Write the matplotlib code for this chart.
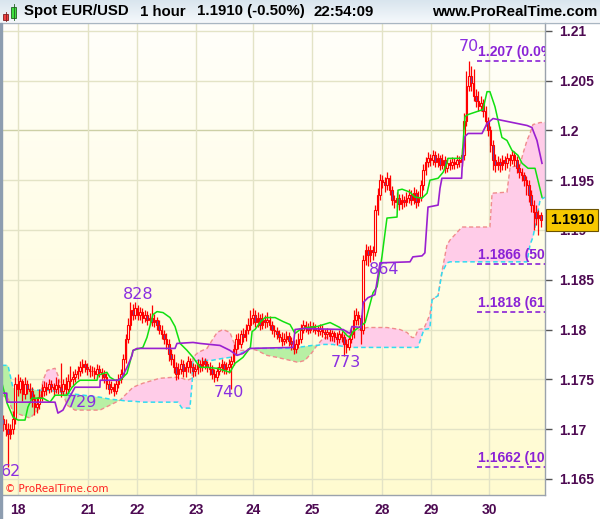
import numpy as np
import matplotlib
matplotlib.use("Agg")
import matplotlib.pyplot as plt
from matplotlib.patches import Rectangle
from matplotlib.lines import Line2D
from matplotlib.colors import LinearSegmentedColormap
import matplotlib.transforms as mtransforms

# ---------------- data (hourly EUR/USD bars) ----------------
first_open = 1.1710
closes = [1.1705, 1.1700, 1.1695, 1.1700, 1.1710, 1.1745, 1.1740, 1.1748, 1.1735, 1.1745,
          1.1740, 1.1738, 1.1730, 1.1722, 1.1725, 1.1732, 1.1738, 1.1742, 1.1740, 1.1745,
          1.1742, 1.1740, 1.1744, 1.1742, 1.1738, 1.1745, 1.1740, 1.1748, 1.1750, 1.1752,
          1.1755, 1.1758, 1.1762, 1.1765, 1.1762, 1.1760, 1.1758, 1.1758, 1.1755, 1.1760,
          1.1757, 1.1755, 1.1752, 1.1745, 1.1740, 1.1742, 1.1738, 1.1745, 1.1750, 1.1755,
          1.1770, 1.1790, 1.1805, 1.1820, 1.1815, 1.1822, 1.1815, 1.1818, 1.1812, 1.1815,
          1.1810, 1.1812, 1.1808, 1.1810, 1.1805, 1.1800, 1.1795, 1.1790, 1.1785, 1.1775,
          1.1770, 1.1762, 1.1755, 1.1760, 1.1765, 1.1758, 1.1762, 1.1768, 1.1762, 1.1758,
          1.1760, 1.1765, 1.1762, 1.1768, 1.1765, 1.1762, 1.1760, 1.1755, 1.1752, 1.1758,
          1.1762, 1.1765, 1.1760, 1.1762, 1.1765, 1.1768, 1.1780, 1.1790, 1.1785, 1.1795,
          1.1792, 1.1800, 1.1805, 1.1812, 1.1815, 1.1808, 1.1812, 1.1805, 1.1810, 1.1808,
          1.1810, 1.1805, 1.1800, 1.1798, 1.1795, 1.1792, 1.1788, 1.1790, 1.1793, 1.1788,
          1.1785, 1.1780, 1.1785, 1.1790, 1.1800, 1.1805, 1.1802, 1.1800, 1.1804, 1.1802,
          1.1800, 1.1798, 1.1801, 1.1797, 1.1795, 1.1797, 1.1793, 1.1796, 1.1792, 1.1790,
          1.1795, 1.1792, 1.1785, 1.1782, 1.1790, 1.1795, 1.1810, 1.1815, 1.1812, 1.1800,
          1.1870, 1.1880, 1.1875, 1.1880, 1.1878, 1.1920, 1.1935, 1.1950, 1.1948, 1.1945,
          1.1952, 1.1940, 1.1930, 1.1928, 1.1932, 1.1926, 1.1930, 1.1928, 1.1932, 1.1935,
          1.1930, 1.1937, 1.1928, 1.1933, 1.1945, 1.1960, 1.1968, 1.1972, 1.1970, 1.1975,
          1.1968, 1.1972, 1.1965, 1.1970, 1.1962, 1.1967, 1.1965, 1.1968, 1.1966, 1.1970,
          1.1968, 1.1975, 1.2010, 1.2045, 1.2055, 1.2048, 1.2035, 1.2030, 1.2025, 1.2028,
          1.2020, 1.2010, 1.2000, 1.1985, 1.1970, 1.1965, 1.1968, 1.1965, 1.1970, 1.1967,
          1.1972, 1.1970, 1.1975, 1.1970, 1.1962, 1.1958, 1.1955, 1.1950, 1.1945, 1.1935,
          1.1925, 1.1918, 1.1912, 1.1915, 1.1910]
highs = [1.1714, 1.1710, 1.1706, 1.1705, 1.1718, 1.1752, 1.1755, 1.1752, 1.1750, 1.1752,
         1.1749, 1.1746, 1.1742, 1.1735, 1.1732, 1.1740, 1.1745, 1.1748, 1.1747, 1.1750,
         1.1749, 1.1746, 1.1752, 1.1750, 1.1766, 1.1750, 1.1752, 1.1755, 1.1763, 1.1758,
         1.1760, 1.1763, 1.1768, 1.1770, 1.1769, 1.1766, 1.1764, 1.1763, 1.1762, 1.1765,
         1.1764, 1.1761, 1.1759, 1.1756, 1.1749, 1.1748, 1.1746, 1.1750, 1.1755, 1.1760,
         1.1775, 1.1795, 1.1812, 1.1828, 1.1826, 1.1828, 1.1825, 1.1823, 1.1822, 1.1820,
         1.1819, 1.1817, 1.1825, 1.1816, 1.1813, 1.1810, 1.1805, 1.1800, 1.1796, 1.1790,
         1.1780, 1.1775, 1.1767, 1.1766, 1.1770, 1.1769, 1.1767, 1.1773, 1.1771, 1.1766,
         1.1765, 1.1770, 1.1769, 1.1772, 1.1771, 1.1768, 1.1767, 1.1764, 1.1760, 1.1762,
         1.1767, 1.1770, 1.1768, 1.1767, 1.1770, 1.1773, 1.1785, 1.1795, 1.1796, 1.1800,
         1.1802, 1.1806, 1.1812, 1.1820, 1.1822, 1.1820, 1.1818, 1.1816, 1.1817, 1.1815,
         1.1818, 1.1814, 1.1809, 1.1805, 1.1803, 1.1800, 1.1797, 1.1796, 1.1799, 1.1797,
         1.1792, 1.1789, 1.1790, 1.1796, 1.1806, 1.1810, 1.1809, 1.1807, 1.1809, 1.1808,
         1.1806, 1.1804, 1.1806, 1.1805, 1.1801, 1.1802, 1.1801, 1.1800, 1.1799, 1.1797,
         1.1800, 1.1799, 1.1795, 1.1790, 1.1794, 1.1802, 1.1820, 1.1822, 1.1819, 1.1815,
         1.1875, 1.1886, 1.1884, 1.1885, 1.1884, 1.1925, 1.1942, 1.1956, 1.1955, 1.1953,
         1.1958, 1.1955, 1.1944, 1.1935, 1.1938, 1.1936, 1.1936, 1.1934, 1.1938, 1.1941,
         1.1940, 1.1943, 1.1941, 1.1939, 1.1950, 1.1966, 1.1973, 1.1978, 1.1976, 1.1980,
         1.1979, 1.1977, 1.1975, 1.1976, 1.1974, 1.1972, 1.1971, 1.1973, 1.1972, 1.1975,
         1.1974, 1.1982, 1.2018, 1.2060, 1.2070, 1.2065, 1.2062, 1.2042, 1.2040, 1.2035,
         1.2032, 1.2025, 1.2014, 1.2005, 1.1990, 1.1976, 1.1974, 1.1972, 1.1975, 1.1974,
         1.1977, 1.1976, 1.1980, 1.1979, 1.1974, 1.1966, 1.1962, 1.1958, 1.1954, 1.1950,
         1.1940, 1.1930, 1.1925, 1.1920, 1.1918]
lows = [1.1698, 1.1693, 1.1662, 1.1690, 1.1695, 1.1705, 1.1733, 1.1736, 1.1728, 1.1730,
        1.1735, 1.1730, 1.1722, 1.1714, 1.1716, 1.1720, 1.1728, 1.1733, 1.1734, 1.1736,
        1.1737, 1.1733, 1.1736, 1.1735, 1.1732, 1.1734, 1.1735, 1.1737, 1.1742, 1.1744,
        1.1747, 1.1750, 1.1753, 1.1756, 1.1757, 1.1754, 1.1752, 1.1753, 1.1750, 1.1751,
        1.1752, 1.1749, 1.1746, 1.1740, 1.1735, 1.1736, 1.1733, 1.1735, 1.1741, 1.1746,
        1.1752, 1.1766, 1.1786, 1.1800, 1.1810, 1.1811, 1.1810, 1.1810, 1.1807, 1.1808,
        1.1805, 1.1806, 1.1804, 1.1803, 1.1800, 1.1795, 1.1790, 1.1785, 1.1780, 1.1768,
        1.1764, 1.1756, 1.1749, 1.1750, 1.1755, 1.1752, 1.1752, 1.1757, 1.1756, 1.1752,
        1.1753, 1.1755, 1.1757, 1.1758, 1.1760, 1.1757, 1.1754, 1.1750, 1.1747, 1.1748,
        1.1754, 1.1757, 1.1755, 1.1755, 1.1756, 1.1740, 1.1764, 1.1775, 1.1780, 1.1781,
        1.1787, 1.1788, 1.1795, 1.1800, 1.1806, 1.1803, 1.1803, 1.1800, 1.1801, 1.1802,
        1.1803, 1.1800, 1.1795, 1.1792, 1.1790, 1.1787, 1.1783, 1.1784, 1.1786, 1.1783,
        1.1779, 1.1775, 1.1776, 1.1781, 1.1786, 1.1796, 1.1797, 1.1795, 1.1796, 1.1797,
        1.1795, 1.1793, 1.1794, 1.1792, 1.1790, 1.1790, 1.1788, 1.1788, 1.1787, 1.1784,
        1.1786, 1.1787, 1.1773, 1.1776, 1.1779, 1.1786, 1.1791, 1.1805, 1.1805, 1.1785,
        1.1795, 1.1865, 1.1864, 1.1868, 1.1870, 1.1874, 1.1915, 1.1930, 1.1942, 1.1938,
        1.1940, 1.1935, 1.1925, 1.1922, 1.1923, 1.1920, 1.1921, 1.1923, 1.1924, 1.1927,
        1.1925, 1.1926, 1.1922, 1.1924, 1.1929, 1.1940, 1.1955, 1.1963, 1.1964, 1.1965,
        1.1963, 1.1963, 1.1960, 1.1961, 1.1957, 1.1958, 1.1960, 1.1961, 1.1961, 1.1962,
        1.1963, 1.1964, 1.1970, 1.2005, 1.2040, 1.2040, 1.2030, 1.2024, 1.2020, 1.2020,
        1.2014, 1.2004, 1.1994, 1.1978, 1.1960, 1.1958, 1.1960, 1.1958, 1.1960, 1.1960,
        1.1962, 1.1964, 1.1966, 1.1964, 1.1957, 1.1952, 1.1949, 1.1944, 1.1935, 1.1928,
        1.1918, 1.1900, 1.1905, 1.1895, 1.1903]

# Ichimoku conversion line (green) - breakpoints (bar index, price)
tenkan_x = [-0.5, 1.6, 4.1, 6.2, 9.1, 10.3, 12.0, 16.6, 19.5, 21.6, 26.6, 28.7, 30.8, 32.0, 39.1,
            39.5, 43.2, 44.5, 46.6, 48.7, 51.6, 54.1, 58.2, 59.9, 62.4, 64.1, 66.6, 69.5, 71.6,
            73.7, 76.6, 79.1, 82.0, 84.9, 89.1, 94.5, 96.6, 99.9, 103.0, 103.7, 104.9, 107.0,
            109.1, 113.3, 116.6, 119.5, 121.6, 123.7, 126.6, 130.8, 136.2, 140.3, 143.2, 144.5,
            145.8, 148.7, 150.8, 154.1, 155.8, 157.8, 159.9, 164.1, 164.5, 166.2, 169.5, 171.6,
            174.5, 176.6, 177.8, 181.2, 183.3, 184.9, 185.3, 191.2, 192.4, 193.7, 199.9, 201.6,
            202.8, 204.9, 207.8, 209.9, 212.0, 214.5, 216.2, 218.7, 221.6, 224.5]
tenkan_y = [1.1746, 1.1726, 1.1712, 1.1709, 1.1709, 1.1722, 1.1731, 1.1731, 1.1727, 1.1734,
            1.1734, 1.1742, 1.1747, 1.1749, 1.1749, 1.1754, 1.1757, 1.1752, 1.1749, 1.1749,
            1.1756, 1.1779, 1.1782, 1.1792, 1.1815, 1.1818, 1.1817, 1.1812, 1.1803, 1.1786,
            1.1779, 1.1772, 1.1762, 1.1762, 1.1761, 1.1757, 1.1766, 1.1772, 1.1782, 1.1798,
            1.1800, 1.1807, 1.1812, 1.1812, 1.1808, 1.1805, 1.1796, 1.1800, 1.1802, 1.1803,
            1.1807, 1.1802, 1.1794, 1.1792, 1.1798, 1.1803, 1.1807, 1.1837, 1.1843, 1.1873,
            1.1912, 1.1913, 1.1940, 1.1941, 1.1938, 1.1933, 1.1932, 1.1937, 1.1950, 1.1952,
            1.1958, 1.1967, 1.1972, 1.1972, 1.2014, 1.2016, 1.2021, 1.2039, 1.2039, 1.2024,
            1.1993, 1.1990, 1.1980, 1.1975, 1.1967, 1.1962, 1.1962, 1.1933]

# Ichimoku base line (purple)
kijun_x = [-0.5, 1.5, 1.6, 21.6, 22.8, 24.9, 27.0, 29.9, 40.3, 40.4, 47.8, 49.5, 51.6, 53.7,
           54.1, 55.8, 71.6, 72.4, 79.1, 82.0, 90.3, 94.5, 97.4, 99.9, 102.8, 120.8, 121.6,
           124.9, 141.6, 144.5, 145.3, 149.1, 150.0, 152.0, 154.9, 157.0, 169.5, 170.7, 174.5,
           175.7, 177.0, 181.2, 182.0, 182.8, 191.0, 191.2, 192.4, 193.7, 199.5, 201.6, 204.1,
           218.3, 220.3, 222.4, 224.5]
kijun_y = [1.1736, 1.1736, 1.1727, 1.1727, 1.1716, 1.1719, 1.1729, 1.1742, 1.1742, 1.1749,
           1.1749, 1.1752, 1.1762, 1.1774, 1.1779, 1.1781, 1.1781, 1.1786, 1.1787, 1.1786,
           1.1784, 1.1779, 1.1774, 1.1776, 1.1781, 1.1782, 1.1800, 1.1801, 1.1800, 1.1796,
           1.1803, 1.1802, 1.1827, 1.1832, 1.1835, 1.1867, 1.1868, 1.1873, 1.1874, 1.1877,
           1.1923, 1.1925, 1.1942, 1.1952, 1.1952, 1.1962, 1.1994, 1.1997, 1.1997, 1.2007,
           1.2012, 1.2005, 1.2003, 1.1990, 1.1967]

# Ichimoku cloud: leading span A (cyan) and span B (salmon)
cloud_x = [-0.5, 2.0, 4.1, 11.2, 14.5, 16.6, 18.3, 21.6, 22.8, 24.5, 26.6, 29.9, 40.3, 44.5,
           48.7, 51.6, 54.1, 58.2, 65.3, 70.75, 72.8, 74.5, 76.6, 77.8, 78.7, 79.1, 81.2, 84.9,
           87.0, 89.1, 91.6, 94.5, 95.75, 97.8, 100.75, 102.8, 105.75, 109.9, 114.1, 119.5,
           122.8, 125.75, 128.7, 130.75, 133.25, 137.4, 141.6, 144.5, 151.6, 159.9, 165.3,
           168.25, 170.3, 171.6, 172.8, 175.3, 177.8, 178.7, 181.2, 182.8, 184.9, 186.2, 191.2,
           202.8, 203.7, 209.9, 211.2, 215.3, 216.6, 218.25, 219.5, 220.75, 222.4, 223.7, 225.75]
span_a = [1.1764, 1.1764, 1.1741, 1.1740, 1.1739, 1.1739, 1.1739, 1.1738, 1.1737, 1.1737,
          1.1736, 1.1735, 1.1732, 1.1730, 1.1729, 1.1728, 1.1728, 1.1727, 1.1727, 1.1727,
          1.1727, 1.1721, 1.1721, 1.1721, 1.1746, 1.1767, 1.1769, 1.1769, 1.1769, 1.1770,
          1.1771, 1.1772, 1.1774, 1.1775, 1.1778, 1.1781, 1.1781, 1.1781, 1.1781, 1.1781,
          1.1782, 1.1783, 1.1784, 1.1784, 1.1785, 1.1785, 1.1783, 1.1782, 1.1782, 1.1782,
          1.1782, 1.1782, 1.1782, 1.1782, 1.1782, 1.1800, 1.1801, 1.1830, 1.1834, 1.1857,
          1.1867, 1.1868, 1.1868, 1.1868, 1.1868, 1.1868, 1.1868, 1.1868, 1.1868, 1.1868,
          1.1885, 1.1893, 1.1913, 1.1930, 1.1933]
span_b = [1.1734, 1.1731, 1.1717, 1.1711, 1.1719, 1.1749, 1.1759, 1.1761, 1.1754, 1.1739,
          1.1724, 1.1719, 1.1719, 1.1724, 1.1729, 1.1736, 1.1742, 1.1746, 1.1751, 1.1752,
          1.1752, 1.1751, 1.1749, 1.1750, 1.1751, 1.1772, 1.1777, 1.1781, 1.1789, 1.1797,
          1.1800, 1.1797, 1.1789, 1.1779, 1.1779, 1.1781, 1.1779, 1.1774, 1.1772, 1.1769,
          1.1767, 1.1769, 1.1777, 1.1784, 1.1791, 1.1794, 1.1796, 1.1797, 1.1802, 1.1802,
          1.1800, 1.1797, 1.1792, 1.1792, 1.1800, 1.1801, 1.1815, 1.1830, 1.1834, 1.1858,
          1.1885, 1.1890, 1.1903, 1.1903, 1.1937, 1.1938, 1.1963, 1.1965, 1.1977, 1.1990,
          1.1997, 1.2006, 1.2007, 1.2008, 1.2008]

# Fibonacci levels (right side)
fib_levels = [1.2070, 1.1866, 1.1818, 1.1662]
fib_labels = ["1.207 (0.0%)", "1.1866 (50.0%)", "1.1818 (61.8%)", "1.1662 (100.0%)"]
fib_start = 197.4

# swing high / low labels
swing_text = ["62", "729", "828", "740", "773", "864", "70"]
swing_x = [3.2, 32.8, 56.2, 94.1, 142.8, 158.7, 194.1]
swing_y = [1.16578, 1.17271, 1.18347, 1.17362, 1.17673, 1.18598, 1.20839]

# axes ticks
day_ticks = [6.2, 35.3, 55.75, 80.3, 104.1, 128.7, 157.8, 178.25, 202.4]
day_labels = ["18", "21", "22", "23", "24", "25", "28", "29", "30"]
price_ticks = [1.21, 1.205, 1.2, 1.195, 1.19, 1.185, 1.18, 1.175, 1.17, 1.165]
price_labels = ["1.21", "1.205", "1.2", "1.195", "1.19", "1.185", "1.18", "1.175", "1.17", "1.165"]

last_price_label = "1.1910"
header_parts = ["Spot EUR/USD", "1 hour", "1.1910 (-0.50%)", "22:54:09"]

# ---------------- figure ----------------
W, H = 600, 519
fig = plt.figure(figsize=(W / 100, H / 100), dpi=100, facecolor="white")

XMIN, XMAX = -0.5, 225.75
YMIN, YMAX = 1.16337, 1.21080

ax = fig.add_axes([2 / W, 1 - 495 / H, 543 / W, 472 / H])
ax.set_xlim(XMIN, XMAX)
ax.set_ylim(YMIN, YMAX)

# background gradient
bg = LinearSegmentedColormap.from_list("bg", ["#fffbd0", "#fffffa"])
ax.imshow(np.linspace(0, 1, 256).reshape(-1, 1), extent=[XMIN, XMAX, YMIN, YMAX],
          aspect="auto", origin="lower", cmap=bg, zorder=0)

# grid
for p in price_ticks:
    ax.axhline(p, color="#cdd0a6" if abs(p - 1.2) < 1e-9 else "#e3e3c6", lw=1, zorder=0.5)
for d in day_ticks:
    ax.axvline(d, color="#e3e3c6", lw=1, zorder=0.5)

# cloud
xa = np.array(cloud_x)
A = np.array(span_a)
B = np.array(span_b)
ax.fill_between(xa, A, B, where=B >= A, interpolate=True, color="#ffcce8", lw=0, zorder=1)
ax.fill_between(xa, A, B, where=A > B, interpolate=True, color="#b8f0a4", lw=0, zorder=1)
ax.plot(xa, B, color="#f08c8c", lw=1.0, ls=(0, (3, 2)), zorder=2)
ax.plot(xa, A, color="#30dcf0", lw=1.1, ls=(0, (3, 2)), zorder=2)

# candles
c = np.array(closes)
o = np.r_[first_open, c[:-1]]
x = np.arange(len(c))
up = c >= o
ax.vlines(x, lows, highs, color="#ff0000", lw=0.9, zorder=3)
body_h = np.maximum(np.abs(c - o), 0.00002)
ax.bar(x, body_h, bottom=np.minimum(o, c), width=0.62,
       color=np.where(up, "#fffbe4", "#5a4cb0"), edgecolor="#ff0000", linewidth=0.8, zorder=4)

# ichimoku lines
ax.plot(tenkan_x, tenkan_y, color="#10e010", lw=1.1, zorder=5)
ax.plot(kijun_x, kijun_y, color="#9a20d0", lw=1.2, zorder=5)

# fibonacci levels
fib_col = "#8a22d6"
ax.hlines(fib_levels, fib_start, XMAX, colors=fib_col, linestyles=(0, (3, 2)), lw=1.2, zorder=6)
for lv, lb in zip(fib_levels, fib_labels):
    ax.text(fib_start + 0.3, lv + 0.00018, lb, color=fib_col, fontsize=10, fontweight="bold",
            family="Liberation Sans", ha="left", va="bottom", clip_on=True, zorder=7)

# swing labels
for t, sx, sy in zip(swing_text, swing_x, swing_y):
    ax.text(sx, sy, t, color="#8a2ee0", fontsize=11.5, ha="center", va="center",
            family="DejaVu Sans", zorder=8)

# axes styling
for s in ["top", "left"]:
    ax.spines[s].set_visible(False)
for s in ["right", "bottom"]:
    ax.spines[s].set_color("#9aa2ac")
    ax.spines[s].set_linewidth(1)
ax.yaxis.tick_right()
ax.set_yticks(price_ticks)
ax.set_yticklabels(price_labels)
ax.set_xticks(day_ticks)
ax.set_xticklabels(day_labels)
ax.tick_params(axis="y", direction="out", length=5, width=1, color="#555555",
               labelsize=10, labelcolor="#4d0a52", pad=5)
ax.tick_params(axis="x", length=0, labelsize=10, labelcolor="#4d0a52", pad=6)
for lbl in ax.get_yticklabels() + ax.get_xticklabels():
    lbl.set_fontweight("bold")
    lbl.set_family("Liberation Sans")

# last price box
tr = mtransforms.blended_transform_factory(fig.transFigure, ax.transData)
fig.text(572 / W, closes[-1], last_price_label, transform=tr, ha="center", va="center",
         fontsize=10.5, fontweight="bold", family="Liberation Sans", color="black",
         bbox=dict(boxstyle="square,pad=0.25", fc="#f7c800", ec="#6b5200", lw=0.8), zorder=10)

# copyright
fig.text(5 / W, 1 - 489 / H, "© ProRealTime.com", color="#ff2020", fontsize=7.5,
         family="DejaVu Sans", va="center", ha="left")

# left stripe
fig.patches.append(Rectangle((0, 0), 2 / W, 1 - 23 / H, transform=fig.transFigure,
                             color="#8d9db0", zorder=5))

# header
hax = fig.add_axes([0, 1 - 22 / H, 1, 22 / H])
hdr = LinearSegmentedColormap.from_list("hdr", ["#f4f8fb", "#d9e5ee"])
hax.imshow(np.linspace(0, 1, 64).reshape(-1, 1), extent=[0, 1, 0, 1], aspect="auto",
           origin="lower", cmap=hdr)
hax.set_xlim(0, 1)
hax.set_ylim(0, 1)
hax.axis("off")
fig.add_artist(Line2D([0, 1], [1 - 22.5 / H] * 2, color="#a9b6c2", lw=1))
# header icon (small candles)
fig.patches.append(Rectangle((3 / W, 1 - 20 / H), 5 / W, 6 / H, transform=fig.transFigure,
                             fc="#f04040", ec="#802020", lw=0.6))
fig.add_artist(Line2D([5.5 / W] * 2, [1 - 21 / H, 1 - 12 / H], color="#802020", lw=0.6))
fig.patches.append(Rectangle((11 / W, 1 - 18 / H), 5 / W, 11 / H, transform=fig.transFigure,
                             fc="#40e040", ec="#206020", lw=0.6))
fig.add_artist(Line2D([13.5 / W] * 2, [1 - 20 / H, 1 - 4 / H], color="#206020", lw=0.6))

hx = [24, 140, 197, 314]
for t, px in zip(header_parts, hx):
    fig.text(px / W, 1 - 11.5 / H, t, ha="left", va="center", fontsize=10.8,
             fontweight="bold", family="Liberation Sans", color="black")
fig.text(597 / W, 1 - 11.5 / H, "www.ProRealTime.com", ha="right", va="center",
         fontsize=10.8, fontweight="bold", family="Liberation Sans", color="black")

fig.savefig("out.png", dpi=100, facecolor="white")
